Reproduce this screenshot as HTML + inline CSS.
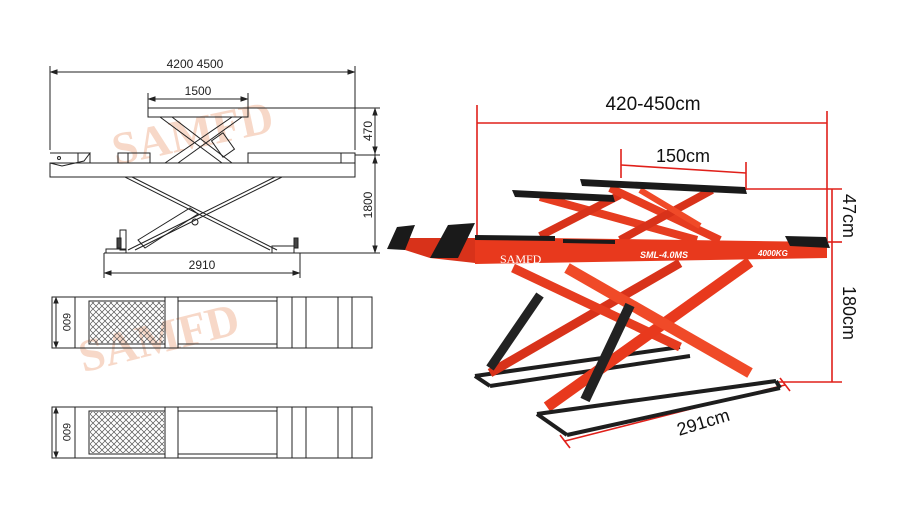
<!DOCTYPE html>
<html><head><meta charset="utf-8"><style>
html,body{margin:0;padding:0;background:#fff;}
svg{display:block;}
</style></head><body>
<svg width="900" height="508" viewBox="0 0 900 508" xmlns="http://www.w3.org/2000/svg" font-family="Liberation Sans, sans-serif">
<rect width="900" height="508" fill="#fff"/>
<text x="110" y="150" font-family="Liberation Serif, serif" font-weight="bold" font-size="46" fill="#f7d8c8" transform="rotate(-12 185 130)">SAMFD</text>
<text x="75" y="355" font-family="Liberation Serif, serif" font-weight="bold" font-size="46" fill="#f7d8c8" transform="rotate(-14 150 330)">SAMFD</text>

<g stroke="#222" stroke-width="1" fill="none">
 <line x1="50" y1="66" x2="50" y2="150"/><line x1="355" y1="66" x2="355" y2="150"/>
 <line x1="51" y1="72" x2="354" y2="72"/>
 <path d="M51 72 l6 -2 v4z M354 72 l-6 -2 v4z" fill="#222"/>
 <line x1="148" y1="93" x2="148" y2="108"/><line x1="248" y1="93" x2="248" y2="108"/>
 <line x1="149" y1="99" x2="247" y2="99"/>
 <path d="M149 99 l6 -2 v4z M247 99 l-6 -2 v4z" fill="#222"/>
 <rect x="148" y="108" width="100" height="9"/>
 <line x1="248" y1="108" x2="380" y2="108"/>
 <path d="M160 117 L222 163 M172 117 L232 163 M232 117 L165 163 M242 117 L178 163"/>
 <rect x="216" y="135" width="14" height="20" transform="rotate(-35 223 145)"/>
 <rect x="50" y="163" width="305" height="14"/>
 <line x1="355" y1="155" x2="380" y2="155"/>
 <path d="M50 153 H90 L84 161 L62 166 L50 163" />
 <circle cx="59" cy="158" r="1.5"/>
 <rect x="78" y="153" width="12" height="10"/>
 <rect x="118" y="153" width="32" height="10"/><line x1="128" y1="153" x2="128" y2="163"/>
 <rect x="248" y="153" width="107" height="10"/><line x1="341" y1="153" x2="341" y2="163"/>
 <path d="M125 177 L270 250 M132 177 L277 250 M275 177 L128 250 M282 177 L135 250"/>
 <path d="M138 240 L190 208 L198 214 L145 248 Z"/>
 <rect x="120" y="230" width="6" height="20"/>
 <circle cx="195" cy="222" r="3"/>
 <rect x="106" y="249" width="20" height="4"/>
 <rect x="272" y="246" width="22" height="7"/>
 <rect x="117" y="238" width="4" height="10" fill="#444"/>
 <rect x="294" y="238" width="4" height="10" fill="#444"/>
 <line x1="104" y1="253" x2="380" y2="253"/>
 <line x1="104" y1="253" x2="104" y2="278"/><line x1="300" y1="253" x2="300" y2="278"/>
 <line x1="105" y1="273" x2="299" y2="273"/>
 <path d="M105 273 l6 -2 v4z M299 273 l-6 -2 v4z" fill="#222"/>
 <line x1="375" y1="109" x2="375" y2="252"/>
 <path d="M375 109 l-2 6 h4z M375 153 l-2 -6 h4z M375 157 l-2 6 h4z M375 252 l-2 -6 h4z" fill="#222"/>
</g>
<g font-size="12" fill="#222">
 <text x="195" y="68" text-anchor="middle">4200  4500</text>
 <text x="198" y="95" text-anchor="middle">1500</text>
 <text x="202" y="269" text-anchor="middle">2910</text>
 <text transform="translate(372 131) rotate(-90)" text-anchor="middle">470</text>
 <text transform="translate(372 205) rotate(-90)" text-anchor="middle">1800</text>
</g>

<g stroke="#222" stroke-width="1" fill="none">
 <g id="plan">
  <rect x="52" y="297" width="320" height="51"/>
  <line x1="75" y1="297" x2="75" y2="348"/>
  <rect x="89" y="301" width="76" height="43"/>
  <line x1="165" y1="297" x2="165" y2="348"/>
  <line x1="178" y1="297" x2="178" y2="348"/>
  <rect x="178" y="301" width="99" height="43"/>
  <line x1="277" y1="297" x2="277" y2="348"/>
  <line x1="292" y1="297" x2="292" y2="348"/>
  <line x1="306" y1="297" x2="306" y2="348"/>
  <line x1="338" y1="297" x2="338" y2="348"/>
  <line x1="352" y1="297" x2="352" y2="348"/>
  <line x1="56" y1="298" x2="56" y2="347"/>
  <path d="M56 298 l-2 5 h4z M56 347 l-2 -5 h4z" fill="#222"/>
 </g>
 <use href="#plan" y="110"/>
</g>
<defs>
 <pattern id="mesh" width="6" height="6" patternUnits="userSpaceOnUse">
  <path d="M0 0 L6 6 M6 0 L0 6" stroke="#555" stroke-width="0.7"/>
 </pattern>
</defs>
<rect x="90" y="302" width="74" height="41" fill="url(#mesh)"/>
<rect x="90" y="412" width="74" height="41" fill="url(#mesh)"/>
<g font-size="11" fill="#222">
 <text transform="translate(63 322) rotate(90)" text-anchor="middle">600</text>
 <text transform="translate(63 432) rotate(90)" text-anchor="middle">600</text>
</g>

<g stroke="#e0201a" stroke-width="1.6" fill="none">
 <line x1="477" y1="105" x2="477" y2="240"/>
 <line x1="827" y1="111" x2="827" y2="242"/>
 <line x1="477" y1="123" x2="827" y2="123"/>
 <line x1="621" y1="149" x2="621" y2="178"/>
 <line x1="621" y1="165" x2="746" y2="173"/>
 <line x1="746" y1="162" x2="746" y2="190"/>
 <line x1="746" y1="189" x2="842" y2="189"/>
 <line x1="828" y1="242" x2="842" y2="242"/>
 <line x1="832" y1="189" x2="832" y2="382"/>
 <line x1="778" y1="382" x2="842" y2="382"/>
 <line x1="565" y1="441" x2="785" y2="385"/>
 <line x1="560" y1="435" x2="570" y2="448"/>
 <line x1="780" y1="378" x2="790" y2="391"/>
</g>
<g fill="#111" font-size="19">
 <text x="653" y="110" text-anchor="middle">420-450cm</text>
 <text x="683" y="162" text-anchor="middle" font-size="18">150cm</text>
 <text transform="translate(843 216) rotate(90)" text-anchor="middle" font-size="18">47cm</text>
 <text transform="translate(843 313) rotate(90)" text-anchor="middle" font-size="18">180cm</text>
 <text transform="translate(705 428) rotate(-17)" text-anchor="middle" font-size="18">291cm</text>
</g>

<g stroke-linecap="butt">
 <!-- back base frame -->
 <g stroke="#1e1e1e" stroke-width="4" fill="none">
  <line x1="475" y1="376" x2="680" y2="347"/>
  <line x1="490" y1="386" x2="690" y2="356"/>
  <line x1="475" y1="376" x2="490" y2="386"/>
 </g>
 <!-- back scissor -->
 <line x1="490" y1="373" x2="680" y2="263" stroke="#d8321a" stroke-width="9"/>
 <line x1="680" y1="347" x2="513" y2="268" stroke="#e63c20" stroke-width="9"/>
 <line x1="490" y1="368" x2="540" y2="295" stroke="#222" stroke-width="9"/>
 <!-- upper scissors -->
 <line x1="540" y1="197" x2="697" y2="240" stroke="#e63c20" stroke-width="8"/>
 <line x1="620" y1="195" x2="540" y2="236" stroke="#d8321a" stroke-width="8"/>
 <line x1="610" y1="188" x2="720" y2="240" stroke="#e63c20" stroke-width="8"/>
 <line x1="712" y1="190" x2="620" y2="240" stroke="#d8321a" stroke-width="8"/>
 <line x1="640" y1="190" x2="700" y2="226" stroke="#f04a28" stroke-width="6"/>
 <!-- top platforms -->
 <polygon points="512,190 613,195 615,202 515,197" fill="#1a1a1a"/>
 <polygon points="580,179 745,187 747,194 582,186" fill="#1a1a1a"/>
 <!-- front main beam -->
 <polygon points="405,238 475,238 475,263 430,258 405,250" fill="#d8321a"/>
 <polygon points="475,237 827,242 827,258 475,264" fill="#e8391d"/>
 <polygon points="475,235 555,236 555,241 475,240" fill="#1a1a1a"/>
 <polygon points="563,239 615,240 615,244 563,243" fill="#1a1a1a"/>
 <polygon points="785,236 826,237 830,248 790,246" fill="#1a1a1a"/>
 <polygon points="387,249 397,227 415,225 405,250" fill="#1a1a1a"/>
 <polygon points="430,258 448,225 475,223 458,258" fill="#1a1a1a"/>
 <!-- front scissor -->
 <line x1="547" y1="407" x2="750" y2="262" stroke="#e8391d" stroke-width="11"/>
 <line x1="750" y1="373" x2="567" y2="268" stroke="#f04a28" stroke-width="11"/>
 <line x1="585" y1="400" x2="630" y2="305" stroke="#222" stroke-width="10"/>
 <!-- front base frame -->
 <g stroke="#1e1e1e" stroke-width="4" fill="none">
  <line x1="537" y1="414" x2="776" y2="381"/>
  <line x1="567" y1="435" x2="780" y2="388"/>
  <line x1="537" y1="414" x2="567" y2="435"/>
  <line x1="776" y1="381" x2="780" y2="388"/>
 </g>
 <text x="500" y="263" font-family="Liberation Serif, serif" font-size="12" fill="#fff">SAMFD</text>
 <text x="640" y="258" font-size="9" font-style="italic" font-weight="bold" fill="#fff">SML-4.0MS</text>
 <text x="758" y="256" font-size="8" font-style="italic" font-weight="bold" fill="#fff">4000KG</text>
</g>
</svg>
</body></html>
